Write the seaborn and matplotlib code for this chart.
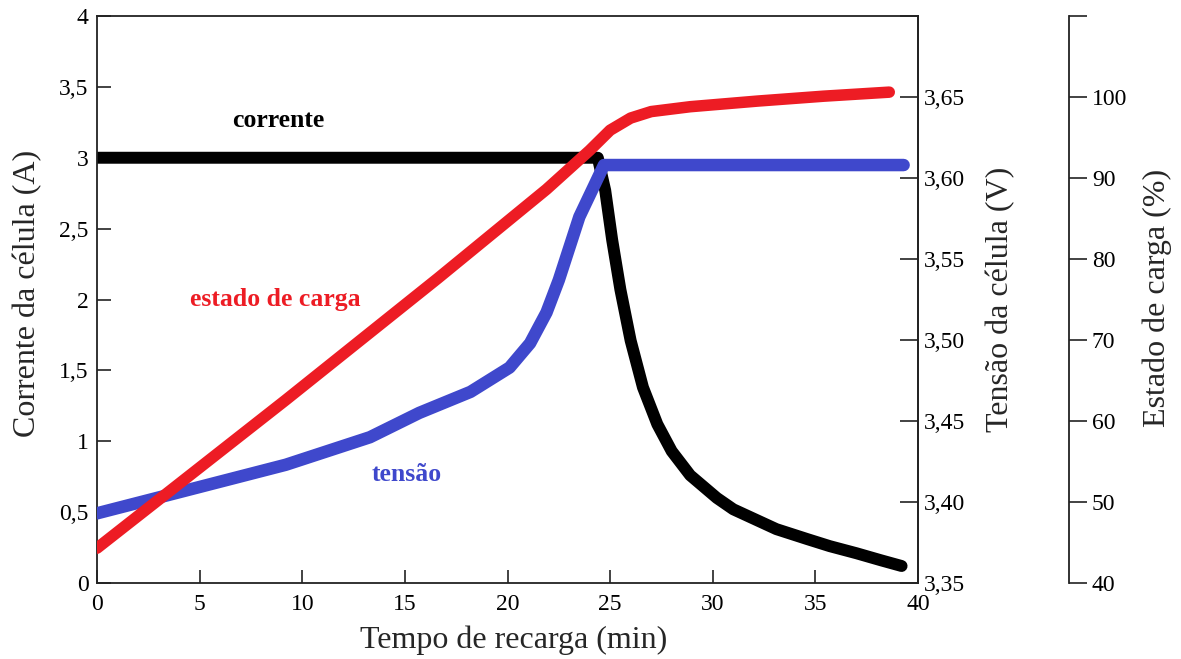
import numpy as np
import pandas as pd
import matplotlib
matplotlib.use("Agg")
import matplotlib.pyplot as plt
import seaborn as sns
from matplotlib.ticker import FixedLocator, FixedFormatter

# ---------------- data ----------------
time_current = [0, 24.4, 24.76, 25.1, 25.5, 26.0, 26.6, 27.3, 28.0, 28.9, 30.2, 31.0,
                32.2, 33.1, 34.6, 35.7, 37.0, 38.2, 39.2]
current = [3.0, 3.0, 2.77, 2.42, 2.07, 1.71, 1.38, 1.12, 0.93, 0.76, 0.60, 0.52,
           0.44, 0.38, 0.31, 0.26, 0.21, 0.16, 0.12]

time_voltage = [0, 4.3, 9.2, 13.3, 15.7, 18.2, 20.1, 21.1, 21.9, 22.5, 23.5, 24.7, 39.3]
voltage = [3.393, 3.407, 3.423, 3.440, 3.455, 3.468, 3.483, 3.498, 3.517, 3.537, 3.576, 3.608, 3.608]

time_soc = [0, 9.2, 16.6, 21.9, 24.0, 25.0, 26.0, 27.0, 28.9, 32.2, 35.4, 38.6]
soc = [44.3, 62.6, 77.6, 88.6, 93.4, 95.9, 97.4, 98.2, 98.8, 99.5, 100.1, 100.6]

x_ticks = [0, 5, 10, 15, 20, 25, 30, 35, 40]
x_ticklabels = ["0", "5", "10", "15", "20", "25", "30", "35", "40"]
current_ticks = [0, 0.5, 1, 1.5, 2, 2.5, 3, 3.5, 4]
current_ticklabels = ["0", "0,5", "1", "1,5", "2", "2,5", "3", "3,5", "4"]
voltage_ticks = [3.35, 3.40, 3.45, 3.50, 3.55, 3.60, 3.65, 3.70]
voltage_ticklabels = ["3,35", "3,40", "3,45", "3,50", "3,55", "3,60", "3,65", ""]
soc_ticks = [40, 50, 60, 70, 80, 90, 100, 110]
soc_ticklabels = ["40", "50", "60", "70", "80", "90", "100", ""]

series_labels = ["corrente", "tensão", "estado de carga"]

# ---------------- style ----------------
sns.set_theme(style="ticks")
plt.rcParams["font.family"] = ["Liberation Serif", "DejaVu Serif"]

BLACK = "#000000"
BLUE = "#3F48CC"
RED = "#ED1C24"

df_i = pd.DataFrame({"t": time_current, "v": current})
df_v = pd.DataFrame({"t": time_voltage, "v": voltage})
df_s = pd.DataFrame({"t": time_soc, "v": soc})

fig = plt.figure(figsize=(11.81, 6.59), dpi=100)
ax = fig.add_axes([97 / 1181, 1 - 583 / 659, (918 - 97) / 1181, (583 - 16) / 659])
ax2 = ax.twinx()
ax3 = ax.twinx()

line_kw = dict(solid_capstyle="round", solid_joinstyle="round")
sns.lineplot(data=df_i, x="t", y="v", ax=ax, color=BLACK, linewidth=8.6, **line_kw)
sns.lineplot(data=df_v, x="t", y="v", ax=ax2, color=BLUE, linewidth=9.0, **line_kw)
sns.lineplot(data=df_s, x="t", y="v", ax=ax3, color=RED, linewidth=8.3, **line_kw)

# limits
ax.set_xlim(0, 40)
ax.set_ylim(0, 4)
ax2.set_ylim(3.35, 3.70)
ax3.set_ylim(40, 110)

# ticks
ax.xaxis.set_major_locator(FixedLocator(x_ticks))
ax.xaxis.set_major_formatter(FixedFormatter(x_ticklabels))
ax.yaxis.set_major_locator(FixedLocator(current_ticks))
ax.yaxis.set_major_formatter(FixedFormatter(current_ticklabels))
ax2.yaxis.set_major_locator(FixedLocator(voltage_ticks))
ax2.yaxis.set_major_formatter(FixedFormatter(voltage_ticklabels))
ax3.yaxis.set_major_locator(FixedLocator(soc_ticks))
ax3.yaxis.set_major_formatter(FixedFormatter(soc_ticklabels))

tick_color = "#222222"
ax.tick_params(axis="x", direction="in", length=9.5, width=1.2, pad=8, labelsize=17,
               bottom=True, top=False, colors=tick_color, labelcolor="black")
ax.tick_params(axis="y", direction="in", length=10, width=1.2, pad=6, labelsize=17,
               left=True, right=False, colors=tick_color, labelcolor="black")
ax2.tick_params(axis="y", direction="in", length=13, width=1.2, pad=4, labelsize=17,
                right=True, left=False, colors=tick_color, labelcolor="black")
ax3.tick_params(axis="y", direction="out", length=13, width=1.2, pad=3.5, labelsize=17,
                right=True, left=False, colors=tick_color, labelcolor="black")

# spines
for s in ax.spines.values():
    s.set_linewidth(1.3)
    s.set_color(tick_color)
    s.set_visible(True)
for a in (ax2, ax3):
    for name in ("top", "bottom", "left"):
        a.spines[name].set_visible(False)
    a.spines["right"].set_linewidth(1.3)
    a.spines["right"].set_color(tick_color)
ax3.spines["right"].set_position(("axes", (1069 - 97) / (918 - 97)))

# axis labels
ax.set_xlabel("Tempo de recarga (min)", fontsize=23)
ax.set_ylabel("Corrente da célula (A)", fontsize=23)
ax2.set_ylabel("Tensão da célula (V)", fontsize=23)
ax3.set_ylabel("Estado de carga (%)", fontsize=23)

W = 918 - 97
H = 583 - 16
ax.xaxis.set_label_coords((514 - 97) / W, (583 - 640) / H)
ax.yaxis.set_label_coords((28 - 97) / W, 0.51)
ax2.yaxis.set_label_coords((1001 - 97) / W, 0.5)
ax3.yaxis.set_label_coords((1157 - 97) / W, 0.503)
for lab in (ax.xaxis.label, ax.yaxis.label, ax2.yaxis.label, ax3.yaxis.label):
    lab.set_verticalalignment("center")
    lab.set_horizontalalignment("center")

# in-plot labels
ax.text(8.82, 3.217, series_labels[0], color=BLACK, fontsize=18.5, fontweight="bold",
        ha="center", va="baseline")
ax.text(15.1, 0.72, series_labels[1], color=BLUE, fontsize=18.5, fontweight="bold",
        ha="center", va="baseline")
ax.text(8.67, 1.954, series_labels[2], color=RED, fontsize=18.5, fontweight="bold",
        ha="center", va="baseline")

for a in (ax, ax2, ax3):
    leg = a.get_legend()
    if leg is not None:
        leg.remove()

fig.savefig("out.png", dpi=100)
